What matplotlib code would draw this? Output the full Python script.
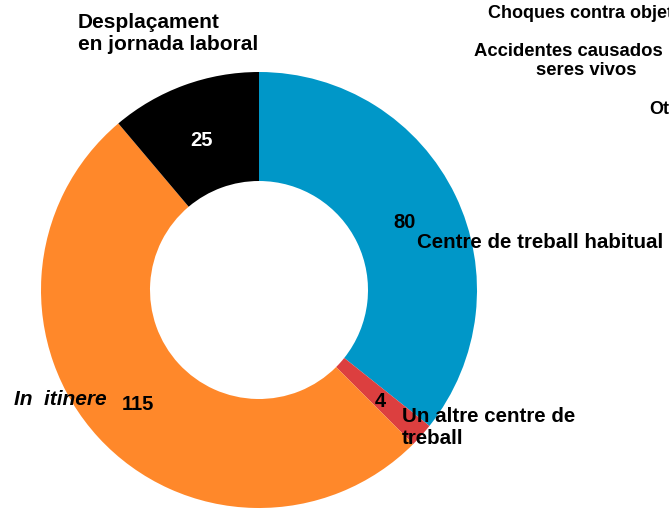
import matplotlib
matplotlib.use('Agg')
import matplotlib.pyplot as plt

# Data
categories = ["Centre de treball habitual", "Un altre centre de\ntreball", "In  itinere",
              "Desplaçament\nen jornada laboral"]
values = [80, 4, 115, 25]
colors = ["#0097C8", "#DC3F3F", "#FF882A", "#000000"]
other_labels = ["Choques contra objetos", "Accidentes causados por\nseres vivos", "Otros"]

plt.rcParams['font.family'] = ['Liberation Sans', 'DejaVu Sans']

fig = plt.figure(figsize=(6.69, 5.10), dpi=100)
W, H = 669, 510
cx, cy, r = 259, 291, 218

ax = fig.add_axes([(cx - r) / W, (H - cy - r) / H, 2 * r / W, 2 * r / H])
wedges, _ = ax.pie(values, colors=colors, startangle=90, counterclock=False,
                   radius=1.0, wedgeprops=dict(width=0.5, linewidth=0))
ax.set_xlim(-1, 1)
ax.set_ylim(-1, 1)
ax.set_aspect('equal')
ax.axis('off')


def d(px, py):
    # pixel -> data coords of the pie axes
    return (px - cx) / r, (cy - py) / r


# value labels
val_pos = [(405, 222), (380, 402), (138, 405), (202, 140)]
val_col = ['black', 'black', 'black', 'white']
for v, p, c in zip(values, val_pos, val_col):
    x, y = d(*p)
    ax.text(x, y, str(v), ha='center', va='center', fontsize=14.5,
            fontweight='bold', color=c, clip_on=False)

# category labels
x, y = d(417, 243)
ax.text(x, y, categories[0], ha='left', va='center', fontsize=14.8,
        fontweight='bold', clip_on=False)
x, y = d(402, 428)
ax.text(x, y, categories[1], ha='left', va='center', fontsize=14.8,
        fontweight='bold', linespacing=1.2, clip_on=False)
x, y = d(107, 400)
ax.text(x, y, categories[2], ha='right', va='center', fontsize=15,
        fontweight='bold', style='italic', clip_on=False)
x, y = d(78, 33)
ax.text(x, y, categories[3], ha='left', va='center', fontsize=15,
        fontweight='bold', linespacing=1.2, clip_on=False)

# labels of the neighbouring chart, cut at the right edge as in the source
fig.text(488 / W, 1 - 13 / H, other_labels[0], ha='left', va='center',
         fontsize=13, fontweight='bold')
fig.text(586 / W, 1 - 61 / H, other_labels[1], ha='center', va='center',
         fontsize=13.3, fontweight='bold', linespacing=1.2)
fig.text(649 / W, 1 - 110 / H, other_labels[2], ha='left', va='center',
         fontsize=13, fontweight='bold')

fig.savefig('out.png', dpi=100)
